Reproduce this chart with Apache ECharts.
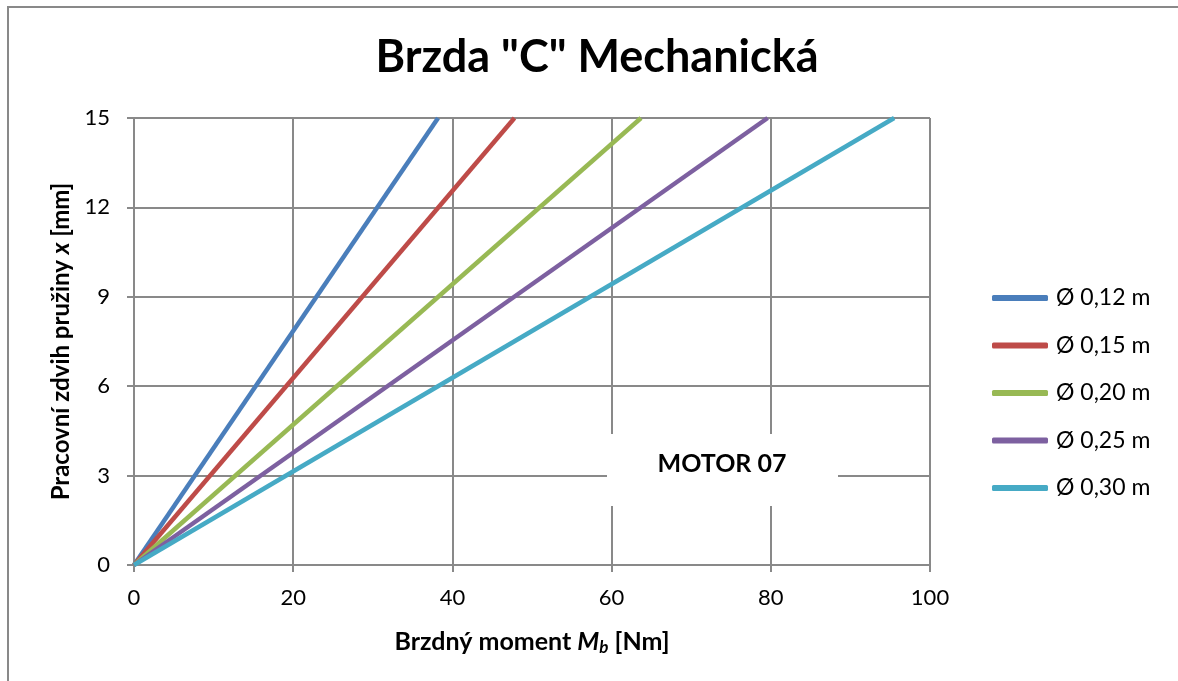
<!DOCTYPE html>
<html>
<head>
  <meta charset="UTF-8">
  <title>Brzda C</title>
  <script src="https://cdn.jsdelivr.net/npm/echarts@6/dist/echarts.min.js"></script>
  <style>
    html, body { margin: 0; padding: 0; background: #fff; }
  </style>
</head>
<body>
  <div id="chart" style="width: 1178px;height:681px;"></div>
  <script type="text/javascript">
    // prumery brzdy a brzdny moment pri zdvihu 15 mm
    const seriesNames = ['Ø 0,12 m', 'Ø 0,15 m', 'Ø 0,20 m', 'Ø 0,25 m', 'Ø 0,30 m'];
    const momentStart = [0, 0, 0, 0, 0];
    const momentEnd = [38.2, 47.8, 63.7, 79.6, 95.5];
    const strokeStart = [0, 0, 0, 0, 0];
    const strokeEnd = [15, 15, 15, 15, 15];
    const colors = ['#4a7ebb', '#be4b48', '#98b954', '#7d60a0', '#46aac5'];

    const font = 'Lato, "Open Sans", sans-serif';
    const gridColor = '#898989';

    const myChart = echarts.init(document.getElementById('chart'));

    const series = seriesNames.map((name, i) => {
      return {
        name: name,
        type: 'line',
        symbol: 'none',
        lineStyle: { width: 4.5, color: colors[i] },
        itemStyle: { color: colors[i] },
        data: [[momentStart[i], strokeStart[i]], [momentEnd[i], strokeEnd[i]]]
      };
    });

    const option = {
      animation: false,
      color: colors,
      title: {
        text: 'Brzda "C" Mechanická',
        left: 592,
        top: 30,
        textAlign: 'center',
        textStyle: { fontFamily: font, fontSize: 45, fontWeight: 'bold', color: '#000' }
      },
      grid: { left: 134, right: 248, top: 118, bottom: 116, containLabel: false },
      legend: {
        orient: 'vertical',
        left: 987,
        top: 280,
        icon: 'roundRect',
        itemWidth: 56,
        itemHeight: 6,
        itemGap: 21.5,
        textStyle: { fontFamily: font, fontSize: 23, color: '#000', lineHeight: 26, padding: [0, 0, 0, 3] },
        data: seriesNames
      },
      xAxis: {
        type: 'value',
        min: 0,
        max: 100,
        interval: 20,
        name: '{t|Brzdný moment }{i|M}{s|b}{t| [Nm]}',
        nameLocation: 'middle',
        nameGap: 62,
        nameTextStyle: {
          rich: {
            t: { fontFamily: font, fontSize: 25, fontWeight: 'bold', color: '#000' },
            i: { fontFamily: font, fontSize: 25, fontWeight: 'bold', fontStyle: 'italic', color: '#000' },
            s: { fontFamily: font, fontSize: 17, fontWeight: 'bold', fontStyle: 'italic', color: '#000', padding: [12, 0, 0, 0] }
          }
        },
        axisLine: { show: true, lineStyle: { color: gridColor, width: 2 } },
        axisTick: { show: true, length: 7, lineStyle: { color: gridColor, width: 2 } },
        axisLabel: { margin: 22, fontFamily: font, fontSize: 22, color: '#000' },
        splitLine: { show: true, lineStyle: { color: gridColor, width: 2 } }
      },
      yAxis: {
        type: 'value',
        min: 0,
        max: 15,
        interval: 3,
        name: '{t|Pracovní zdvih pružiny }{i|x}{t| [mm]}',
        nameLocation: 'middle',
        nameGap: 60,
        nameRotate: 90,
        nameTextStyle: {
          rich: {
            t: { fontFamily: font, fontSize: 24, fontWeight: 'bold', color: '#000' },
            i: { fontFamily: font, fontSize: 24, fontWeight: 'bold', fontStyle: 'italic', color: '#000' }
          }
        },
        axisLine: { show: true, lineStyle: { color: gridColor, width: 2 } },
        axisTick: { show: true, length: 7, lineStyle: { color: gridColor, width: 2 } },
        axisLabel: { margin: 24, fontFamily: font, fontSize: 22, color: '#000' },
        splitLine: { show: true, lineStyle: { color: gridColor, width: 2 } }
      },
      graphic: [
        {
          type: 'rect',
          z: 100,
          shape: { x: 8, y: 7, width: 1200, height: 720 },
          style: { fill: 'none', stroke: gridColor, lineWidth: 2 },
          silent: true
        },
        {
          type: 'rect',
          z: 100,
          shape: { x: 607, y: 434, width: 231, height: 72 },
          style: { fill: '#fff' },
          silent: true
        },
        {
          type: 'text',
          z: 101,
          x: 722,
          y: 464,
          style: {
            text: 'MOTOR 07',
            fontFamily: font,
            fontSize: 25,
            fontWeight: 'bold',
            fill: '#000',
            align: 'center',
            verticalAlign: 'middle'
          },
          silent: true
        }
      ],
      series: series
    };
    myChart.setOption(option);
  </script>
</body>
</html>
